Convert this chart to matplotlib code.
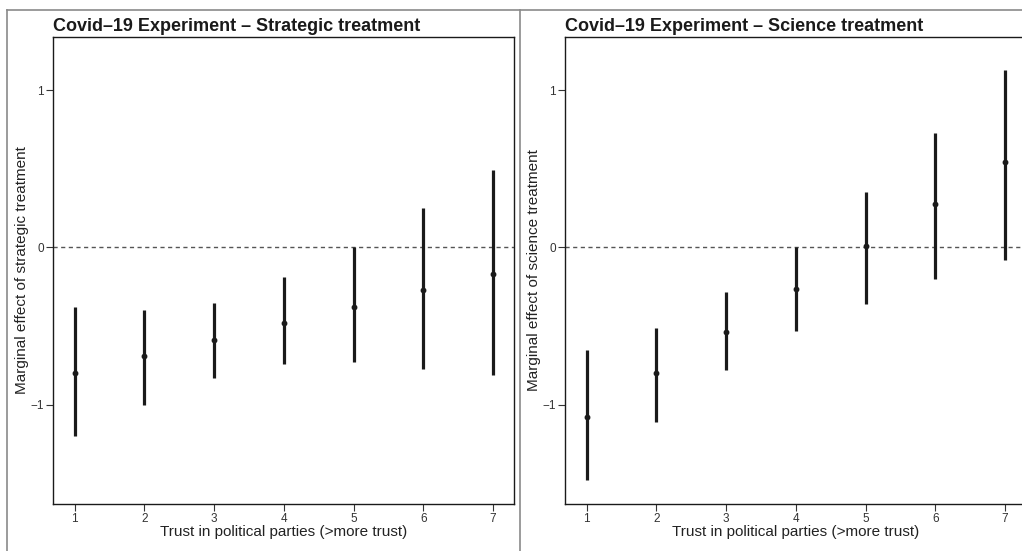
import matplotlib
matplotlib.use("Agg")
import matplotlib.pyplot as plt
from matplotlib.lines import Line2D

plt.rcParams['font.family'] = ['Liberation Sans', 'DejaVu Sans']

trust = [1, 2, 3, 4, 5, 6, 7]
x_ticks = [1, 2, 3, 4, 5, 6, 7]
y_ticks = [-1, 0, 1]

strategic_est = [-0.80, -0.69, -0.59, -0.48, -0.38, -0.27, -0.17]
strategic_lo = [-1.20, -1.00, -0.83, -0.74, -0.73, -0.77, -0.81]
strategic_hi = [-0.38, -0.40, -0.35, -0.19, 0.00, 0.25, 0.49]

science_est = [-1.075, -0.80, -0.535, -0.265, 0.006, 0.277, 0.546]
science_lo = [-1.48, -1.11, -0.78, -0.53, -0.36, -0.20, -0.08]
science_hi = [-0.65, -0.51, -0.28, 0.00, 0.35, 0.73, 1.13]

titles = ["Covid\u201319 Experiment \u2013 Strategic treatment",
          "Covid\u201319 Experiment \u2013 Science treatment"]
ylabels = ["Marginal effect of strategic treatment",
           "Marginal effect of science treatment"]
xlabel = "Trust in political parties (>more trust)"

W, H = 1022, 551
fig = plt.figure(figsize=(W / 100, H / 100), dpi=100)

def box(x0, x1, y0, y1):
    return [x0 / W, 1 - y1 / H, (x1 - x0) / W, (y1 - y0) / H]

# panel frames (gray)
gray = '#8a8a8a'
fig.add_artist(Line2D([7 / W, 1], [1 - 10 / H, 1 - 10 / H], color=gray, lw=1.2, transform=fig.transFigure))
fig.add_artist(Line2D([7 / W, 7 / W], [0, 1 - 10 / H], color=gray, lw=1.2, transform=fig.transFigure))
fig.add_artist(Line2D([520 / W, 520 / W], [0, 1 - 10 / H], color=gray, lw=1.2, transform=fig.transFigure))

axes_pos = [box(53, 514, 37, 504), box(565, 1026, 37, 504)]
data = [(strategic_est, strategic_lo, strategic_hi), (science_est, science_lo, science_hi)]

for i, (pos, (est, lo, hi)) in enumerate(zip(axes_pos, data)):
    ax = fig.add_axes(pos)
    ax.axhline(0, color='#555555', lw=1.0, ls=(0, (3, 2.5)), zorder=1)
    ax.vlines(trust, lo, hi, color='#1a1a1a', lw=2.3, zorder=2)
    ax.plot(trust, est, 'o', color='#1a1a1a', ms=3.2, zorder=3)
    ax.set_xlim(0.69, 7.3)
    ax.set_ylim(-1.63, 1.337)
    ax.set_xticks(x_ticks)
    ax.set_yticks(y_ticks)
    ax.set_yticklabels(['\u22121', '0', '1'])
    ax.tick_params(direction='out', length=5, width=0.8, colors='#333333', labelsize=8.5, pad=1.5)
    for s in ax.spines.values():
        s.set_color('#1a1a1a')
        s.set_linewidth(1.0)
    ax.set_xlabel(xlabel, fontsize=11, color='#222222', labelpad=0)
    ax.set_ylabel(ylabels[i], fontsize=11, color='#222222', labelpad=1)
    ax.set_title(titles[i], loc='left', fontsize=13, fontweight='bold', color='#1a1a1a', pad=4)

fig.savefig('out.png', dpi=100)
